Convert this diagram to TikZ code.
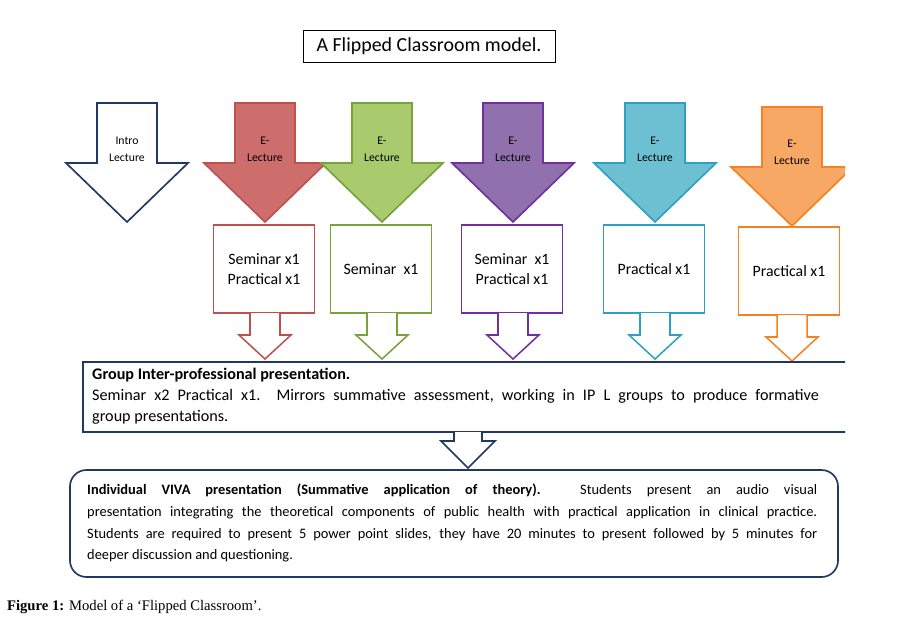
\documentclass[tikz,border=0pt]{standalone}
\usepackage{fontspec}
\setmainfont{Carlito}
\newfontfamily\capfont{Liberation Serif}
\usetikzlibrary{positioning}

\definecolor{navy}{HTML}{1F3864}
\definecolor{redS}{HTML}{C0504D}  \definecolor{redF}{HTML}{CD6E6C}
\definecolor{grnS}{HTML}{77A33C}  \definecolor{grnF}{HTML}{A9CB6E}
\definecolor{purS}{HTML}{7030A0}  \definecolor{purF}{HTML}{9071AE}
\definecolor{cyaS}{HTML}{2FA0C4}  \definecolor{cyaF}{HTML}{6CC0D2}
\definecolor{orgS}{HTML}{F58220}  \definecolor{orgF}{HTML}{F6A864}

% px units: 1 unit = one pixel of the reference
\tikzset{
  px/.style={x=0.03cm,y=-0.03cm},
  lect/.style={font=\fontsize{10}{14.5}\selectfont, align=center},
  task/.style={draw=#1, line width=1.3pt, fill=white, minimum width=3.03cm,
               minimum height=2.64cm, align=center, font=\fontsize{13.5}{17}\selectfont},
  body/.style={text width=22.6cm, align=justify, inner sep=0pt,
               execute at begin node={\hyphenpenalty=10000\relax},
               font=\fontsize{13.8}{18}\selectfont}
}
% big down arrow: centre x, top y, stroke, fill
\newcommand{\bigdown}[4]{%
  \draw[#3, line width=1.4pt, fill=#4] (#1-30,#2) -- (#1+30,#2) -- (#1+30,#2+60)
    -- (#1+61,#2+60) -- (#1,#2+119) -- (#1-61,#2+60) -- (#1-30,#2+60) -- cycle;}
% small down arrow under a task box: centre x, top y, stroke
\newcommand{\smalldown}[3]{%
  \draw[#3, line width=1.3pt, fill=white] (#1-15,#2) -- (#1-15,#2+22) -- (#1-26,#2+22)
    -- (#1,#2+46) -- (#1+26,#2+22) -- (#1+15,#2+22) -- (#1+15,#2);}

\begin{document}
\begin{tikzpicture}[px]
  \useasboundingbox[fill=white] (0,0) rectangle (900,636);

  \node[draw, line width=0.8pt, minimum width=7.56cm, minimum height=0.96cm,
        font=\fontsize{17}{20}\selectfont] (title) at (429,46) {A Flipped Classroom model.};

  \begin{scope}
    \clip (0,0) rectangle (845,636);
    % lecture arrows
    \bigdown{127}{103}{navy}{white}
    \bigdown{265}{103}{redS}{redF}
    \bigdown{382}{103}{grnS}{grnF}
    \bigdown{513}{103}{purS}{purF}
    \bigdown{655}{103}{cyaS}{cyaF}
    \bigdown{792}{107}{orgS}{orgF}
    \node[lect] (intro) at (127,149) {Intro\\Lecture};
    \foreach \cx/\cy/\nm in {265/149/l1, 382/149/l2, 513/149/l3, 655/149/l4, 792/152/l5}
      \node[lect] (\nm) at (\cx,\cy) {E-\\Lecture};

    % tasks
    \node[task=redS] (t1) at (264,269) {Seminar x1\\Practical x1};
    \node[task=grnS] (t2) at (381,269) {Seminar\ \ x1};
    \node[task=purS] (t3) at (512,269) {Seminar\ \ x1\\Practical x1};
    \node[task=cyaS] (t4) at (654,269) {Practical x1};
    \node[task=orgS] (t5) at (789,271) {Practical x1};
    \smalldown{265}{313}{redS}
    \smalldown{382}{313}{grnS}
    \smalldown{513}{313}{purS}
    \smalldown{655}{313}{cyaS}
    \smalldown{792}{315}{orgS}

    % group presentation
    \draw[navy, line width=1.4pt] (850,362) -- (83,362) -- (83,432) -- (850,432);
    \node[body, text width=21.8cm, anchor=north west] (group) at (92,368)
      {\textbf{Group Inter-professional presentation.}\\
       Seminar x2 Practical x1.\ \ Mirrors summative assessment,\ working in IP L groups to produce formative\linebreak group presentations.};
  \end{scope}

  \draw[navy, line width=1.4pt, fill=white] (454,432) -- (454,441) -- (441,441) -- (468,468)
    -- (495,441) -- (482,441) -- (482,432);

  % individual viva
  \draw[navy, line width=1.4pt, rounded corners=14] (70,470) rectangle (838,577);
  \node[body, text width=21.9cm, anchor=north west, font=\fontsize{12.3}{18.5}\selectfont]
    (viva) at (87,484)
    {\textbf{Individual VIVA presentation (Summative\ application of theory).} Students present an audio visual\linebreak
     presentation integrating the theoretical components of public health with practical application in clinical practice.\linebreak
     Students are required to present 5 power point slides, they have 20 minutes to present followed by 5 minutes for\linebreak
     deeper discussion and questioning.};

  \node[anchor=west, font=\capfont\fontsize{12.5}{14}\selectfont] (cap) at (3,607)
    {\textbf{Figure 1:} Model of a ‘Flipped Classroom’.};
\end{tikzpicture}
\end{document}
